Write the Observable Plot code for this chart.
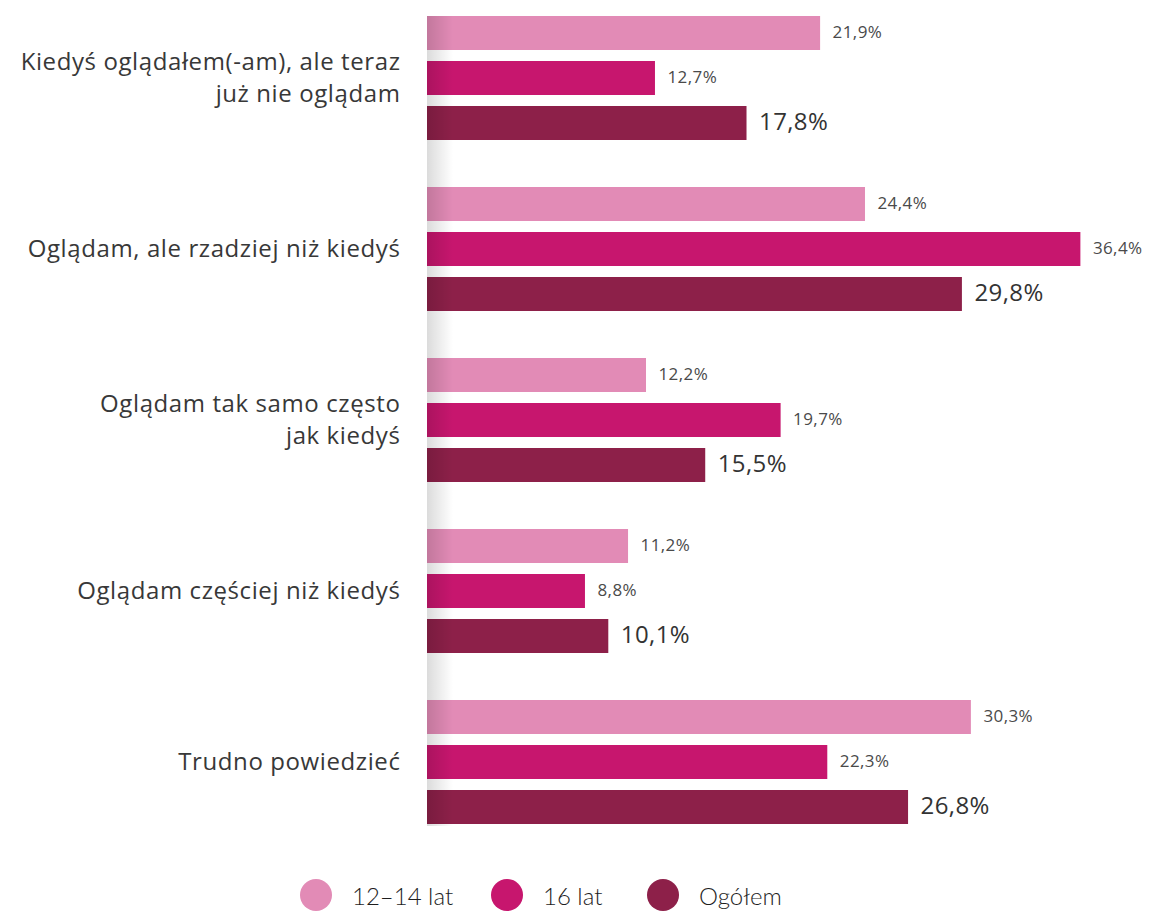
<!DOCTYPE html>
<html>
<head>
<meta charset="utf-8">
<script src="https://cdn.jsdelivr.net/npm/d3@7"></script>
<script src="https://cdn.jsdelivr.net/npm/@observablehq/plot@0.6"></script>
<style>
  body { margin: 0; background: #fff; font-family: "Open Sans", sans-serif; }
  #chart svg { display: block; }
  #chart g[aria-label="fy-axis tick label"] { letter-spacing: 0.6px; }
  #chart g[aria-label="text"] { letter-spacing: 0.4px; }
  #legend { position: relative; height: 62px; font-family: Lato, sans-serif; font-size: 24px; font-weight: 300; color: #1e1e1e; }
  .item { position: absolute; top: 29px; height: 32px; display: flex; align-items: center; }
  .dot { width: 32px; height: 32px; border-radius: 50%; margin-right: 20px; flex: none; }
</style>
</head>
<body>
<div id="chart"></div>
<div id="legend"></div>
<script>
const categories = [
  "Kiedyś oglądałem(-am), ale teraz\njuż nie oglądam",
  "Oglądam, ale rzadziej niż kiedyś",
  "Oglądam tak samo często\njak kiedyś",
  "Oglądam częściej niż kiedyś",
  "Trudno powiedzieć"
];
const series = ["12–14 lat", "16 lat", "Ogółem"];
const values1214 = [21.9, 24.4, 12.2, 11.2, 30.3];
const values16 = [12.7, 36.4, 19.7, 8.8, 22.3];
const valuesAll = [17.8, 29.8, 15.5, 10.1, 26.8];
const colors = ["#e28bb6", "#c7166e", "#8d2049"];

const seriesValues = [values1214, values16, valuesAll];
const data = [];
categories.forEach((c, i) => {
  series.forEach((s, j) => data.push({category: c, series: s, value: seriesValues[j][i]}));
});
const fmt = v => v.toFixed(1).replace(".", ",") + "%";

const plot = Plot.plot({
  width: 1149,
  height: 850,
  marginLeft: 427,
  marginRight: 4,
  marginTop: 14,
  marginBottom: 24,
  style: {fontFamily: "'Open Sans', sans-serif"},
  x: {domain: [0, 40], axis: null},
  y: {domain: series, axis: null, paddingInner: 0.24, paddingOuter: 0},
  fy: {domain: categories, paddingInner: 0.271, paddingOuter: 0, axis: null},
  color: {domain: series, range: colors},
  marks: [
    Plot.barX(data, {x: "value", y: "series", fy: "category", fill: "series"}),
    Plot.text(data.filter(d => d.series !== "Ogółem"), {
      x: "value", y: "series", fy: "category", text: d => fmt(d.value),
      dx: 12, dy: -1, textAnchor: "start", fontSize: 17, fill: "#4a4a4a"
    }),
    Plot.text(data.filter(d => d.series === "Ogółem"), {
      x: "value", y: "series", fy: "category", text: d => fmt(d.value),
      dx: 12, dy: -1, textAnchor: "start", fontSize: 24, fill: "#333"
    }),
    Plot.axisFy({anchor: "left", tickSize: 0, tickPadding: 27, fontSize: 24, lineHeight: 1.3, dy: -3, label: null, fill: "#383838"})
  ]
});
document.getElementById("chart").appendChild(plot);

// left-edge shading overlay
const xs = plot.scale("x");
const fys = plot.scale("fy");
const svgSel = d3.select(plot);
const defs = svgSel.append("defs");
const grad = defs.append("linearGradient").attr("id", "shade").attr("x1", 0).attr("x2", 1).attr("y1", 0).attr("y2", 0);
grad.append("stop").attr("offset", 0).attr("stop-color", "#000").attr("stop-opacity", 0.14);
grad.append("stop").attr("offset", 1).attr("stop-color", "#000").attr("stop-opacity", 0);
const shadeX = xs.apply(0);
const shadeTop = fys.apply(categories[0]);
const shadeBottom = fys.apply(categories[categories.length - 1]) + fys.bandwidth;
svgSel.append("rect").attr("x", shadeX).attr("y", shadeTop).attr("width", 26).attr("height", shadeBottom - shadeTop + 1).attr("fill", "url(#shade)");

// legend
const legendX = [300, 491, 647];
const legend = d3.select("#legend");
series.forEach((s, i) => {
  const it = legend.append("div").attr("class", "item").style("left", legendX[i] + "px");
  it.append("div").attr("class", "dot").style("background", colors[i]);
  it.append("span").text(s);
});
</script>
</body>
</html>
